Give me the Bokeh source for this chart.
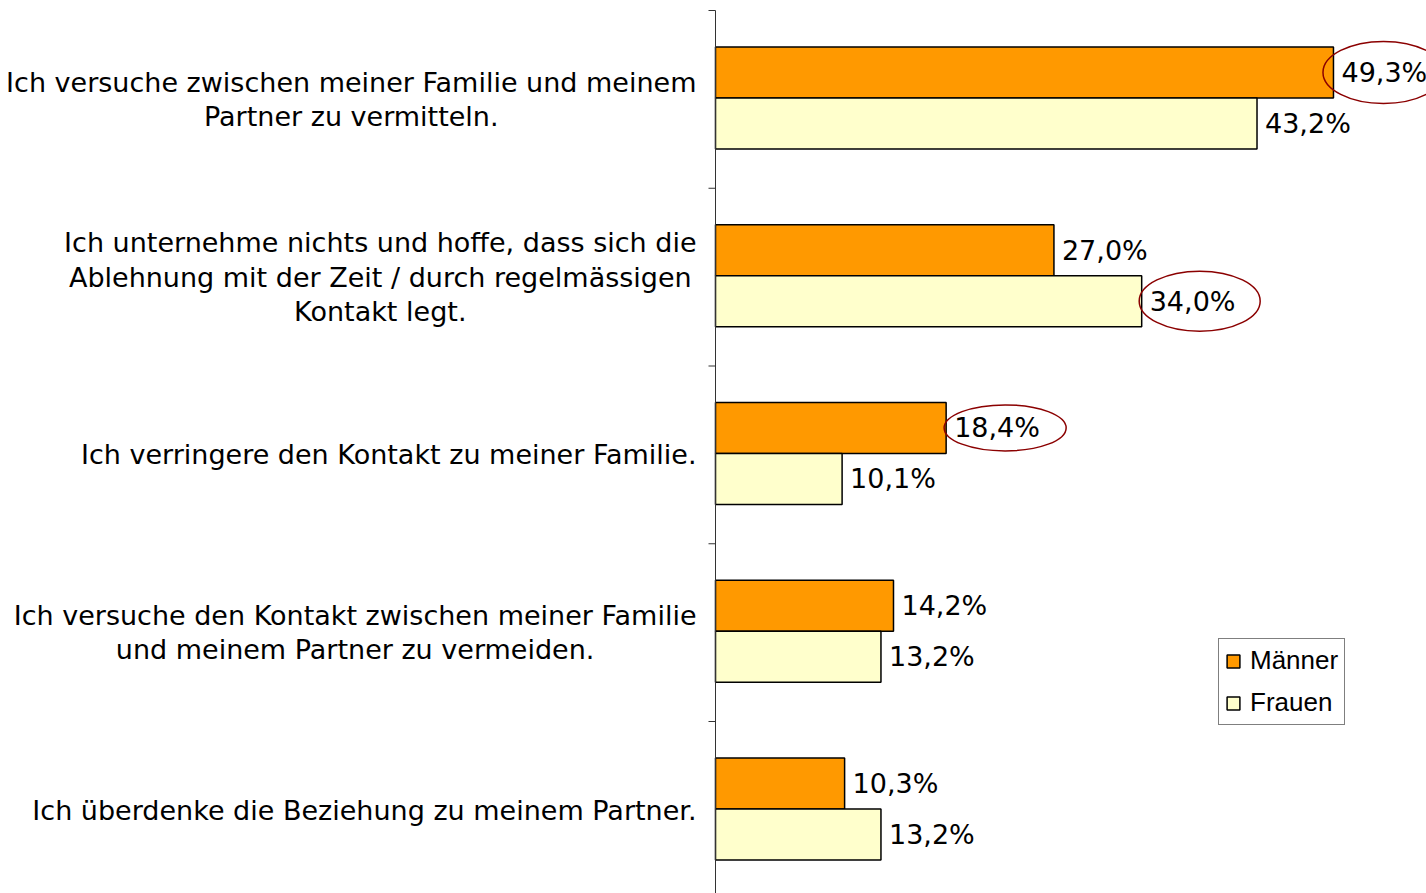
from bokeh.plotting import figure
from bokeh.models import Range1d, Legend, LegendItem, ColumnDataSource
from bokeh.core.properties import value
from bokeh.embed import file_html
from bokeh.resources import INLINE

# ---- data ----
categories = [
    "Ich versuche zwischen meiner Familie und meinem\nPartner zu vermitteln.",
    "Ich unternehme nichts und hoffe, dass sich die\nAblehnung mit der Zeit / durch regelmässigen\nKontakt legt.",
    "Ich verringere den Kontakt zu meiner Familie.",
    "Ich versuche den Kontakt zwischen meiner Familie\nund meinem Partner zu vermeiden.",
    "Ich überdenke die Beziehung zu meinem Partner.",
]
series = ["Männer", "Frauen"]
maenner = [49.3, 27.0, 18.4, 14.2, 10.3]
frauen = [43.2, 34.0, 10.1, 13.2, 13.2]
# highlighted values (category index, series index)
highlights = [(0, 0), (1, 1), (2, 0)]

# ---- style / layout ----
W, H = 1426, 893
PX = 12.535            # pixels per percent
ZERO_PX = 715          # x pixel of 0 %
BAND = 177.75          # pixels per category band
TOP_PX = 10            # y pixel of top band boundary
n = len(categories)
xmin = -ZERO_PX / PX
xmax = (W - ZERO_PX) / PX
ytop = n + TOP_PX / BAND
ybot = n - (H - TOP_PX) / BAND
BAR_H = 51 / BAND
SHIFT = 1.5 / BAND
FONT = "DejaVu Sans"
FS = "27px"
COL_M = "#FF9900"
COL_F = "#FFFFCC"
ELL_W = [121, 121, 122]
ELL_H = [62, 60, 46]
ELL_DX = [50, 58, 59]

p = figure(width=W, height=H, x_range=Range1d(xmin, xmax), y_range=Range1d(ybot, ytop),
           x_axis_location=None, y_axis_location=None, toolbar_location=None,
           output_backend="svg", min_border=0, outline_line_color=None)
p.grid.visible = False
p.background_fill_color = "white"
p.border_fill_color = "white"

centers = [n - 0.5 - i for i in range(n)]
y_m = [c + SHIFT + BAR_H / 2 for c in centers]
y_f = [c + SHIFT - BAR_H / 2 for c in centers]

def fmt(v):
    return f"{v:.1f}".replace(".", ",") + "%"

src_m = ColumnDataSource(dict(y=y_m, v=maenner, t=[fmt(v) for v in maenner]))
src_f = ColumnDataSource(dict(y=y_f, v=frauen, t=[fmt(v) for v in frauen]))

r_m = p.hbar(y="y", left=0, right="v", height=BAR_H, source=src_m,
             fill_color=COL_M, line_color="black", line_width=1.5)
r_f = p.hbar(y="y", left=0, right="v", height=BAR_H, source=src_f,
             fill_color=COL_F, line_color="black", line_width=1.5)

for src in (src_m, src_f):
    p.text(x="v", y="y", text="t", source=src, x_offset=8,
           text_align="left", text_baseline="middle",
           text_font=value(FONT), text_font_size=FS, text_color="black")

# category labels: block right-anchored left of the axis, lines centred
p.text(x=[0] * n, y=centers, text=categories, x_offset=-19,
       anchor="center_right", text_align="center", text_baseline="middle",
       text_line_height=1.11, text_font=value(FONT), text_font_size=FS,
       text_color="black")

# axis line and ticks at category boundaries
bounds = [n - i for i in range(n + 1)]
p.segment(x0=[0], y0=[ybot], x1=[0], y1=[n], line_color="#333333", line_width=1)
p.segment(x0=[-7 / PX] * len(bounds), y0=bounds, x1=[0] * len(bounds), y1=bounds,
          line_color="#333333", line_width=1)

# ellipses around highlighted values
vals = [maenner, frauen]
ys = [y_m, y_f]
ex = [vals[s][c] + ELL_DX[k] / PX for k, (c, s) in enumerate(highlights)]
ey = [ys[s][c] for (c, s) in highlights]
p.ellipse(x=ex, y=ey, width=ELL_W, height=ELL_H, width_units="screen",
          height_units="screen", fill_color=None, line_color="#8B0000", line_width=1.5)

legend = Legend(items=[LegendItem(label=series[0], renderers=[r_m]),
                       LegendItem(label=series[1], renderers=[r_f])],
                location=(1218, H - 725))
legend.label_text_font = "Liberation Sans"
legend.label_text_font_size = "26px"
legend.label_text_color = "black"
legend.glyph_width = 16
legend.glyph_height = 16
legend.label_standoff = 9
legend.padding = 6
legend.spacing = 11
legend.margin = 0
legend.border_line_color = "black"
legend.border_line_width = 1
legend.background_fill_color = "white"
legend.background_fill_alpha = 1
p.add_layout(legend)

open("out.html", "w").write(file_html(p, INLINE))
